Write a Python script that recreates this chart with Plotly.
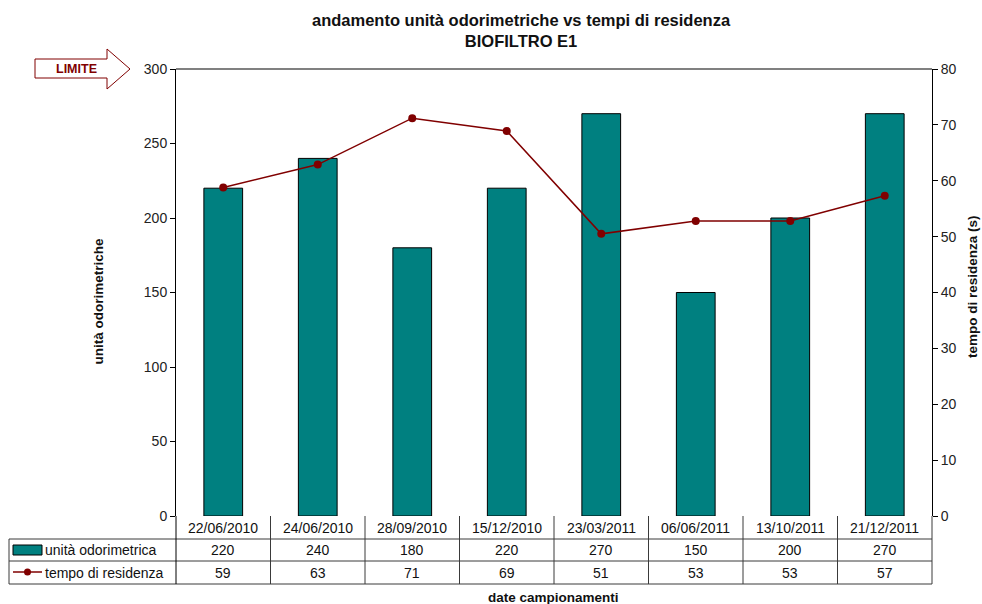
import plotly.graph_objects as go

dates = ["22/06/2010", "24/06/2010", "28/09/2010", "15/12/2010",
         "23/03/2011", "06/06/2011", "13/10/2011", "21/12/2011"]
odour_units = [220, 240, 180, 220, 270, 150, 200, 270]
residence_time = [58.8, 62.9, 71.2, 68.9, 50.5, 52.8, 52.8, 57.3]
residence_table = [59, 63, 71, 69, 51, 53, 53, 57]
left_ticks = [0, 50, 100, 150, 200, 250, 300]
right_ticks = [0, 10, 20, 30, 40, 50, 60, 70, 80]

TEAL = "#008080"
DRED = "#800000"
FONT = "Liberation Sans, Arial, sans-serif"

W, H = 982, 604
L, R, T, B = 176, 932, 69, 516
PW, PH = R - L, B - T


def px(x):
    return (x - L) / PW


def py(y):
    return (B - y) / PH


xs = list(range(len(dates)))

fig = go.Figure()
fig.add_trace(go.Bar(x=xs, y=odour_units, name="unità odorimetrica",
                     marker=dict(color=TEAL, line=dict(color="black", width=1)),
                     yaxis="y"))
fig.add_trace(go.Scatter(x=xs, y=residence_time, name="tempo di residenza",
                         mode="lines+markers",
                         line=dict(color=DRED, width=1.5),
                         marker=dict(color=DRED, size=8),
                         yaxis="y2"))

shapes = []
ann = []
LC = "#3a3a3a"


def text(t, x, y, xref="paper", size=14, xanchor="center", angle=0, color="#111"):
    ann.append(dict(text=t, x=x, y=y, xref=xref, yref="paper", showarrow=False,
                    xanchor=xanchor, yanchor="middle", textangle=angle,
                    font=dict(family=FONT, size=size, color=color)))


# table horizontal lines
for yy in (539, 561, 584):
    shapes.append(dict(type="line", xref="paper", yref="paper",
                       x0=px(9), x1=px(R), y0=py(yy), y1=py(yy),
                       line=dict(color=LC, width=1)))
# left border of legend column
shapes.append(dict(type="line", xref="paper", yref="paper",
                   x0=px(9), x1=px(9), y0=py(539), y1=py(584),
                   line=dict(color=LC, width=1)))
# column dividers
for i in range(len(dates) + 1):
    xv = px(L + i * PW / len(dates))
    shapes.append(dict(type="line", xref="paper", yref="paper",
                       x0=xv, x1=xv, y0=py(516), y1=py(584),
                       line=dict(color="black" if i == 0 else LC, width=1)))
# legend symbols
shapes.append(dict(type="rect", xref="paper", yref="paper",
                   x0=px(13), x1=px(42), y0=py(545), y1=py(555),
                   fillcolor=TEAL, line=dict(color="black", width=1)))
shapes.append(dict(type="line", xref="paper", yref="paper",
                   x0=px(13), x1=px(42), y0=py(572), y1=py(572),
                   line=dict(color=DRED, width=1.5)))
shapes.append(dict(type="circle", xref="paper", yref="paper",
                   x0=px(24), x1=px(31), y0=py(568.5), y1=py(575.5),
                   fillcolor=DRED, line=dict(color=DRED, width=0)))
# LIMITE arrow
path_pts = [(35, 59), (107, 59), (107, 49), (130, 69), (107, 89), (107, 78), (35, 78)]
path = "M " + " L ".join(f"{px(a)},{py(b)}" for a, b in path_pts) + " Z"
shapes.append(dict(type="path", xref="paper", yref="paper", path=path,
                   fillcolor="white", line=dict(color=DRED, width=1)))
text("<b>LIMITE</b>", px(76.5), py(69), size=12.5, color=DRED)

# table text
for i, d in enumerate(dates):
    text(d, i, py(527.5), xref="x")
    text(str(odour_units[i]), i, py(550), xref="x")
    text(str(residence_table[i]), i, py(572.5), xref="x")
text("unità odorimetrica", px(43), py(550), xanchor="left")
text("tempo di residenza", px(43), py(572.5), xanchor="left")
text("<b>date campionamenti</b>", px(553), py(597), size=13.5)
text("<b>unità odorimetriche</b>", px(97.5), py(301), size=13.5, angle=-90)
text("<b>tempo di residenza (s)</b>", px(972), py(287), size=13.5, angle=-90)
text("<b>andamento unità odorimetriche vs tempi di residenza<br>BIOFILTRO E1</b>",
     px(521), py(30), size=16.5)

# top border of plot area
shapes.append(dict(type="line", xref="paper", yref="paper", x0=0, x1=1, y0=1, y1=1,
                   line=dict(color="#808080", width=2)))

fig.update_layout(
    width=W, height=H,
    margin=dict(l=L, r=W - R, t=T, b=H - B),
    paper_bgcolor="white", plot_bgcolor="white",
    showlegend=False,
    bargap=0.59,
    font=dict(family=FONT, size=14, color="#222"),
    xaxis=dict(range=[-0.5, len(dates) - 0.5], showticklabels=False, ticks="",
               showgrid=False, zeroline=False, showline=False, fixedrange=True),
    yaxis=dict(range=[0, 300], tickvals=left_ticks, showgrid=False, zeroline=False,
               showline=True, linecolor="black", linewidth=1, ticks="outside",
               ticklen=5, tickcolor="black", tickfont=dict(family=FONT, size=14, color="#222")),
    yaxis2=dict(range=[0, 80], tickvals=right_ticks, overlaying="y", side="right",
                showgrid=False, zeroline=False, showline=True, linecolor="black", linewidth=1,
                ticks="outside", ticklen=5, tickcolor="black",
                tickfont=dict(family=FONT, size=14, color="#222")),
    shapes=shapes,
    annotations=ann,
)

fig.write_html("out.html")
